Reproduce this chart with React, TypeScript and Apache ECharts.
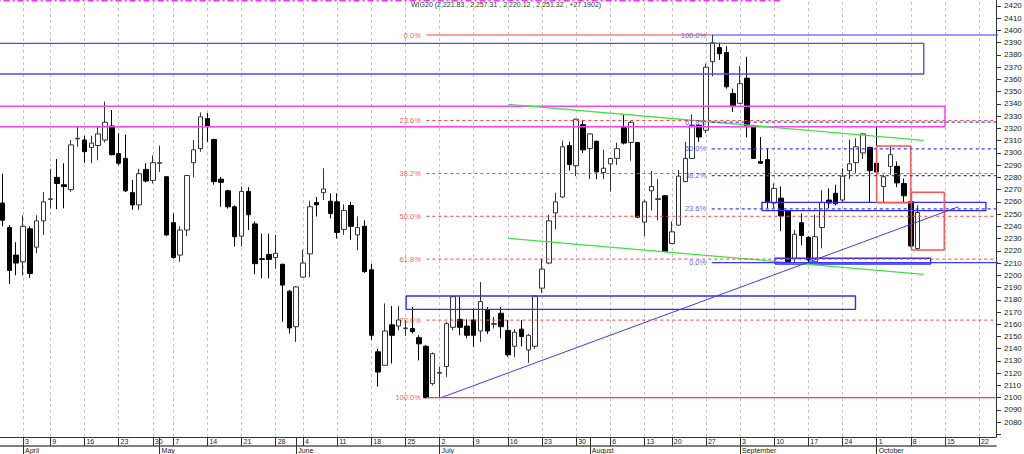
import React, { useEffect, useRef } from "react";
import * as echarts from "echarts";

// ---------- calendar (Warsaw Stock Exchange, 2018) ----------
const holidays = ["2018-03-30", "2018-04-02", "2018-05-01", "2018-05-03", "2018-05-31", "2018-08-15"];
const calendarStart = "2018-03-26";
const calendarEnd = "2018-10-26";
const firstCandleDate = "2018-03-27";

// ---------- daily candles, 27 Mar 2018 .. 9 Oct 2018 ----------
const opens = [
  2259, 2239, 2216.5, 2211, 2238, 2223, 2244.5, 2262, 2280, 2274, 2270, 2311.5, 2310.5,
  2304.5, 2306, 2310.5, 2322, 2299.5, 2295.5, 2267.5, 2257.5, 2286.5, 2277.5,
  2291.5, 2280.5, 2243, 2216.5, 2237, 2292, 2303.5, 2328, 2311, 2278.5,
  2269, 2256, 2232, 2268.5, 2242, 2213.5, 2217, 2214.5, 2209, 2187,
  2158, 2198.5, 2217.5, 2259.5, 2267.5, 2260.5, 2260, 2237.5, 2257, 2233,
  2240, 2204.5, 2137.5, 2126.5, 2159.5, 2158.5, 2156.5, 2156.5, 2149, 2142,
  2111.5, 2120, 2125.5, 2157.5, 2164, 2158.5, 2163.5, 2154.5, 2172, 2160,
  2169, 2155, 2142, 2156, 2139, 2142, 2189.5, 2210, 2251, 2264,
  2306, 2289.5, 2323, 2303.5, 2309.5, 2284, 2291, 2295.5, 2321, 2308.5,
  2308.5, 2243.5, 2269, 2262, 2265, 2226, 2241, 2276.5, 2295.5, 2322.5,
  2318.5, 2374.5, 2386, 2382, 2348.5, 2340.5, 2361, 2321.5, 2293, 2294.5,
  2259, 2263, 2253, 2213.5, 2243, 2231, 2211, 2239, 2261.5, 2267,
  2261.5, 2285.5, 2292, 2300, 2304.5, 2291.5, 2272.5, 2289, 2289, 2275,
  2260, 2221.83,
];
const closes = [
  2245, 2204, 2210, 2240, 2201.5, 2244.5, 2260, 2262.5, 2275, 2272.5, 2306.5, 2312, 2301,
  2308, 2315.5, 2325, 2298.5, 2291.5, 2269, 2257.5, 2283, 2277, 2292,
  2292, 2233, 2214.5, 2237, 2281.5, 2302.5, 2329.5, 2321.5, 2276.5, 2276,
  2256, 2231.5, 2268.5, 2249.5, 2209.5, 2213, 2213, 2218, 2192, 2157,
  2190.5, 2210, 2256, 2257.5, 2270.5, 2250.5, 2235, 2253, 2240, 2239,
  2203, 2151, 2121, 2154.5, 2151, 2163.5, 2157, 2154, 2144, 2100,
  2136, 2120.5, 2160.5, 2182.5, 2157.5, 2151, 2151, 2178.5, 2154.5, 2160.5,
  2158, 2135, 2153.5, 2150, 2151, 2183, 2205, 2244.5, 2260, 2305,
  2290.5, 2327.5, 2302.5, 2315.5, 2284.5, 2287.5, 2295.5, 2303.5, 2308, 2325,
  2247.5, 2260, 2272.5, 2262.5, 2219.5, 2235.5, 2281, 2295.5, 2322.5, 2313,
  2370, 2390, 2381, 2354, 2338.5, 2356.5, 2321.5, 2295.5, 2291.5, 2260,
  2271, 2248.5, 2211, 2233.5, 2232.5, 2212.5, 2231.5, 2259.5, 2259, 2258.5,
  2281, 2291, 2305, 2315.5, 2285.5, 2284.5, 2280.5, 2298.5, 2275.5, 2265,
  2224, 2251.32,
];
const lows = [
  2240, 2193, 2200, 2200, 2198, 2218, 2233, 2254.7, 2254, 2254.7, 2268, 2305, 2292,
  2291.5, 2294, 2308.5, 2298, 2290, 2268, 2253.5, 2253.5, 2276, 2275,
  2284.5, 2232, 2213.5, 2211, 2232, 2280, 2301, 2309, 2274, 2256,
  2254.5, 2223.5, 2223.5, 2237, 2201, 2197.5, 2197.5, 2205.5, 2162, 2152.5,
  2145.5, 2198, 2198.5, 2248, 2261.5, 2246.5, 2230, 2233, 2229, 2220.5,
  2202, 2147, 2109, 2126.5, 2128, 2155, 2150.5, 2152.5, 2130.5, 2099.5,
  2110, 2100, 2117, 2155, 2151, 2148.5, 2141.5, 2145.5, 2152, 2156.5,
  2148.5, 2133.5, 2133, 2142, 2128.5, 2140, 2185.5, 2209, 2237.5, 2263,
  2285.5, 2281, 2300, 2278.5, 2278.5, 2278.5, 2268.5, 2290, 2307, 2293.5,
  2247, 2232, 2253, 2245, 2219, 2225.5, 2240.5, 2276, 2295, 2309,
  2316, 2362.5, 2376, 2352.5, 2333.5, 2340, 2312.5, 2295, 2291, 2255,
  2255, 2236, 2210, 2211, 2224.5, 2210.5, 2210.5, 2222, 2255, 2257,
  2260, 2278.5, 2283.5, 2295, 2259.5, 2259.5, 2259.5, 2282, 2272, 2259,
  2223, 2220.12,
];
const highs = [
  2283, 2241, 2227, 2249, 2240, 2249, 2268, 2287, 2295, 2291.5, 2310.5, 2322, 2314,
  2314, 2321.5, 2342, 2335, 2316, 2315, 2278, 2287, 2291.5, 2298,
  2306, 2281, 2250.5, 2240, 2282, 2310.5, 2333, 2332.5, 2311.5, 2280.5,
  2270, 2257, 2272.5, 2272, 2244, 2234, 2234, 2233, 2209.5, 2188,
  2191, 2221, 2261, 2264, 2287.5, 2267, 2267, 2258, 2260, 2248,
  2245, 2209.5, 2140, 2177, 2175, 2175, 2163.5, 2174, 2151, 2143,
  2137, 2125.5, 2162, 2183, 2182.5, 2164, 2173, 2194.5, 2174, 2166,
  2174, 2163.5, 2156, 2163.5, 2152, 2183.5, 2214, 2249.5, 2267.5, 2310,
  2309, 2328, 2327, 2316, 2310, 2302.5, 2296, 2308.5, 2331, 2326,
  2309, 2262, 2285.5, 2278.5, 2265.5, 2244, 2286, 2309, 2331.5, 2323.5,
  2373, 2396.3, 2390, 2387, 2352.5, 2371, 2378.5, 2323, 2313, 2303.5,
  2275, 2272.5, 2253.5, 2237, 2250.5, 2232, 2249.5, 2269.5, 2271, 2274,
  2287.5, 2311, 2312, 2316, 2305, 2322, 2282, 2305, 2293, 2279,
  2261, 2257.31,
];

// ---------- header ----------
const instrument = "WIG20";
const lastQuote = ["2,221.83", "2,257.31", "2,220.12", "2,251.32", "+27.1902"];

// ---------- axes ----------
const monthLabels = [
  "January", "February", "March", "April", "May", "June",
  "July", "August", "September", "October", "November", "December",
];
const yTickValues = [
  2070, 2080, 2090, 2100, 2110, 2120, 2130, 2140, 2150, 2160, 2170, 2180,
  2190, 2200, 2210, 2220, 2230, 2240, 2250, 2260, 2270, 2280, 2290, 2300,
  2310, 2320, 2330, 2340, 2350, 2360, 2370, 2380, 2390, 2400, 2410, 2420,
];
const yLabelValues = yTickValues.slice(1);
const xRange = [0.63, 146.48]; // trading-day index (0 = 26 Mar 2018)
const yRange = [2067.9, 2424.9];

// ---------- drawing tools (x in trading-day index, y in index points) ----------
const redFibLevels = [2396.3, 2326.4, 2283.1, 2248.2, 2213.2, 2163.4, 2100.0];
const redFibLabels = ["0.0%", "23.6%", "38.2%", "50.0%", "61.8%", "78.6%", "100.0%"];
const redFibStart = 63.06;
const redFibTopEnd = 104.85;
const blueFibLevels = [2396.3, 2325.2, 2303.3, 2281.4, 2254.2, 2210.3];
const blueFibLabels = ["100.0%", "61.8%", "50.0%", "38.2%", "23.6%", "0.0%"];
const blueFibStart = 104.85;
const blueFibEnd = 150.4;

// rectangles: [x1, x2, yLow, yHigh]
const blueZoneTop = [-5, 135.9, 2364.4, 2389.5];
const magentaZone = [-5, 139.0, 2321.4, 2338.1];
const blueZoneJuly = [60.1, 125.9, 2172.2, 2183.1];
const blueZoneSeptA = [112.2, 145.0, 2252.8, 2259.6];
const blueZoneSeptB = [114.1, 136.9, 2209.2, 2213.9];
const redBoxA = [129.0, 134.0, 2259.3, 2305.6];
const redBoxB = [134.1, 138.9, 2220.7, 2267.8];

// segments
const greenUpper = [[75.1, 2339.6], [135.9, 2310.3]];
const greenLower = [[75.1, 2230.2], [135.9, 2200.8]];
const blueTrend = [[65.2, 2100.0], [141.0, 2256.0]];
const magentaTop = [[-5, 2424.2], [115.1, 2424.2]];

const FONT = "'Liberation Sans', Arial, sans-serif";

function buildTradingDays(): string[] {
  const out: string[] = [];
  const d = new Date(calendarStart + "T00:00:00Z");
  const end = new Date(calendarEnd + "T00:00:00Z");
  while (d.getTime() <= end.getTime()) {
    const wd = d.getUTCDay();
    const s = d.toISOString().slice(0, 10);
    if (wd !== 0 && wd !== 6 && holidays.indexOf(s) < 0) out.push(s);
    d.setUTCDate(d.getUTCDate() + 1);
  }
  return out;
}

function rectPath(r: number[]) {
  return [
    [r[0], r[2]], [r[1], r[2]], [r[1], r[3]], [r[0], r[3]], [r[0], r[2]],
  ];
}

function seg(data: number[][], color: string, width: number, dash?: any, z = 4) {
  return {
    type: "line",
    data,
    clip: false,
    silent: true,
    symbol: "none",
    showSymbol: false,
    z,
    lineStyle: { color, width, type: dash || "solid" },
  };
}

function buildOption() {
  const days = buildTradingDays();
  const dow = (s: string) => new Date(s + "T00:00:00Z").getUTCDay();
  const inRange = (i: number) => i >= xRange[0] && i <= xRange[1];
  const idx = days.map((_, i) => i);
  const weekStarts = idx.filter((i) => i === 0 || dow(days[i]) <= dow(days[i - 1]));
  const monthStarts = idx.filter((i) => i === 0 || days[i].slice(5, 7) !== days[i - 1].slice(5, 7));
  const weekVis = weekStarts.filter(inRange);
  const monthVis = monthStarts.filter(inRange);
  const dayTicks = Array.from(new Set([...weekVis, ...monthVis])).sort((a, b) => a - b);

  const first = days.indexOf(firstCandleDate);
  const candleData = opens.map((o, k) => [first + k, o, closes[k], lows[k], highs[k]]);

  const gridLines = weekVis.map((i) => ({ coords: [[i, yRange[0]], [i, yRange[1]]] }));

  const red = "#ff3c3c";
  const blue = "#3838ff";
  const series: any[] = [
    {
      type: "lines",
      coordinateSystem: "cartesian2d",
      silent: true,
      z: 1,
      data: gridLines,
      lineStyle: { color: "#c4c4c4", width: 1, type: [3, 3], opacity: 1 },
    },
    {
      type: "candlestick",
      data: candleData,
      barWidth: 5,
      silent: true,
      z: 3,
      itemStyle: {
        color: "#ffffff",
        color0: "#000000",
        borderColor: "#333333",
        borderColor0: "#000000",
        borderColorDoji: "#333333",
        borderWidth: 1,
      },
    },
    seg(magentaTop, "#ff30ff", 1.5, [6, 3, 2, 3]),
    seg(rectPath(blueZoneTop), "#4a4aff", 1.4),
    seg(rectPath(magentaZone), "#ff40ff", 1.5),
    seg(rectPath(blueZoneJuly), "#2c2cff", 1.4),
    seg(rectPath(blueZoneSeptA), "#2c2cff", 1.4),
    seg(rectPath(blueZoneSeptB), "#2c2cff", 1.4),
    seg(rectPath(redBoxA), "#ff5050", 1.4),
    seg(rectPath(redBoxB), "#ff5050", 1.4),
    seg(greenUpper, "#44e044", 1.3),
    seg(greenLower, "#44e044", 1.3),
    seg(blueTrend, "#3a3aff", 1),
  ];

  redFibLevels.forEach((v, k) => {
    const solid = k === 0 || k === redFibLevels.length - 1;
    const end = k === 0 ? redFibTopEnd : xRange[1];
    series.push(seg([[redFibStart, v], [end, v]], red, solid ? 1.2 : 1, solid ? "solid" : [3, 3]));
  });
  blueFibLevels.forEach((v, k) => {
    const solid = k === 0 || k === blueFibLevels.length - 1;
    series.push(seg([[blueFibStart, v], [blueFibEnd, v]], blue, 1.2, solid ? "solid" : [3, 3]));
  });

  const labelSeries = (xs: number, levels: number[], labels: string[], color: string) => ({
    type: "scatter",
    silent: true,
    z: 6,
    symbolSize: 1,
    itemStyle: { color: "rgba(0,0,0,0)" },
    label: {
      show: true,
      position: "left",
      distance: 5,
      fontSize: 7.5,
      fontFamily: FONT,
      color,
    },
    labelLayout: { hideOverlap: false },
    data: levels.map((v, k) => ({ value: [xs, v], label: { formatter: labels[k] } })),
  });
  series.push(labelSeries(redFibStart, redFibLevels, redFibLabels, "#ff3030"));
  series.push(labelSeries(blueFibStart, blueFibLevels, blueFibLabels, "#3030ff"));

  const dayLabel = (v: number) => {
    const d = days[Math.round(v)];
    return d ? String(Number(d.slice(8, 10))) : "";
  };
  const monthLabel = (v: number) => {
    const d = days[Math.round(v)];
    return d ? monthLabels[Number(d.slice(5, 7)) - 1] : "";
  };

  return {
    animation: false,
    backgroundColor: "#ffffff",
    textStyle: { fontFamily: FONT },
    title: {
      text: instrument + " (" + lastQuote.join(" , ") + ")",
      left: 411,
      top: 1,
      padding: 0,
      textStyle: { fontSize: 7, fontWeight: "normal", color: "#333", fontFamily: FONT },
    },
    grid: { left: 0, right: 28, top: 0, bottom: 17, containLabel: false, outerBoundsMode: "none" },
    xAxis: [
      {
        type: "value",
        min: xRange[0],
        max: xRange[1],
        position: "bottom",
        axisLine: { show: true, onZero: false, lineStyle: { color: "#333", width: 1 } },
        axisTick: { show: true, length: 9, customValues: dayTicks, lineStyle: { color: "#333" } },
        axisLabel: {
          customValues: weekVis,
          formatter: dayLabel,
          fontSize: 7,
          color: "#222",
          align: "left",
          margin: 1,
          padding: [0, 0, 0, 2],
          fontFamily: FONT,
        },
        splitLine: { show: false },
      },
      {
        type: "value",
        min: xRange[0],
        max: xRange[1],
        position: "bottom",
        offset: 9,
        axisLine: { show: true, onZero: false, lineStyle: { color: "#555", width: 1.5 } },
        axisTick: { show: true, length: 9, customValues: monthVis, lineStyle: { color: "#333" } },
        axisLabel: {
          customValues: monthVis,
          formatter: monthLabel,
          fontSize: 7,
          color: "#222",
          align: "left",
          margin: 1,
          padding: [0, 0, 0, 2],
          fontFamily: FONT,
        },
        splitLine: { show: false },
      },
    ],
    yAxis: {
      type: "value",
      position: "right",
      min: yRange[0],
      max: yRange[1],
      axisLine: { show: true, onZero: false, lineStyle: { color: "#333", width: 1 } },
      axisTick: { show: true, length: 5, customValues: yTickValues, lineStyle: { color: "#333" } },
      axisLabel: {
        customValues: yLabelValues,
        formatter: (v: number) => String(Math.round(v)),
        fontSize: 8,
        margin: 8,
        color: "#222",
        fontFamily: FONT,
      },
      splitLine: { show: false },
    },
    series,
  };
}

export default function App() {
  const ref = useRef<HTMLDivElement>(null);
  useEffect(() => {
    if (!ref.current) return;
    const chart = echarts.init(ref.current, null, { renderer: "svg" });
    chart.setOption(buildOption() as any);
    return () => chart.dispose();
  }, []);
  return (
    <div
      ref={ref}
      style={{ position: "fixed", left: 0, top: 0, width: 1024, height: 454, background: "#fff" }}
    />
  );
}
